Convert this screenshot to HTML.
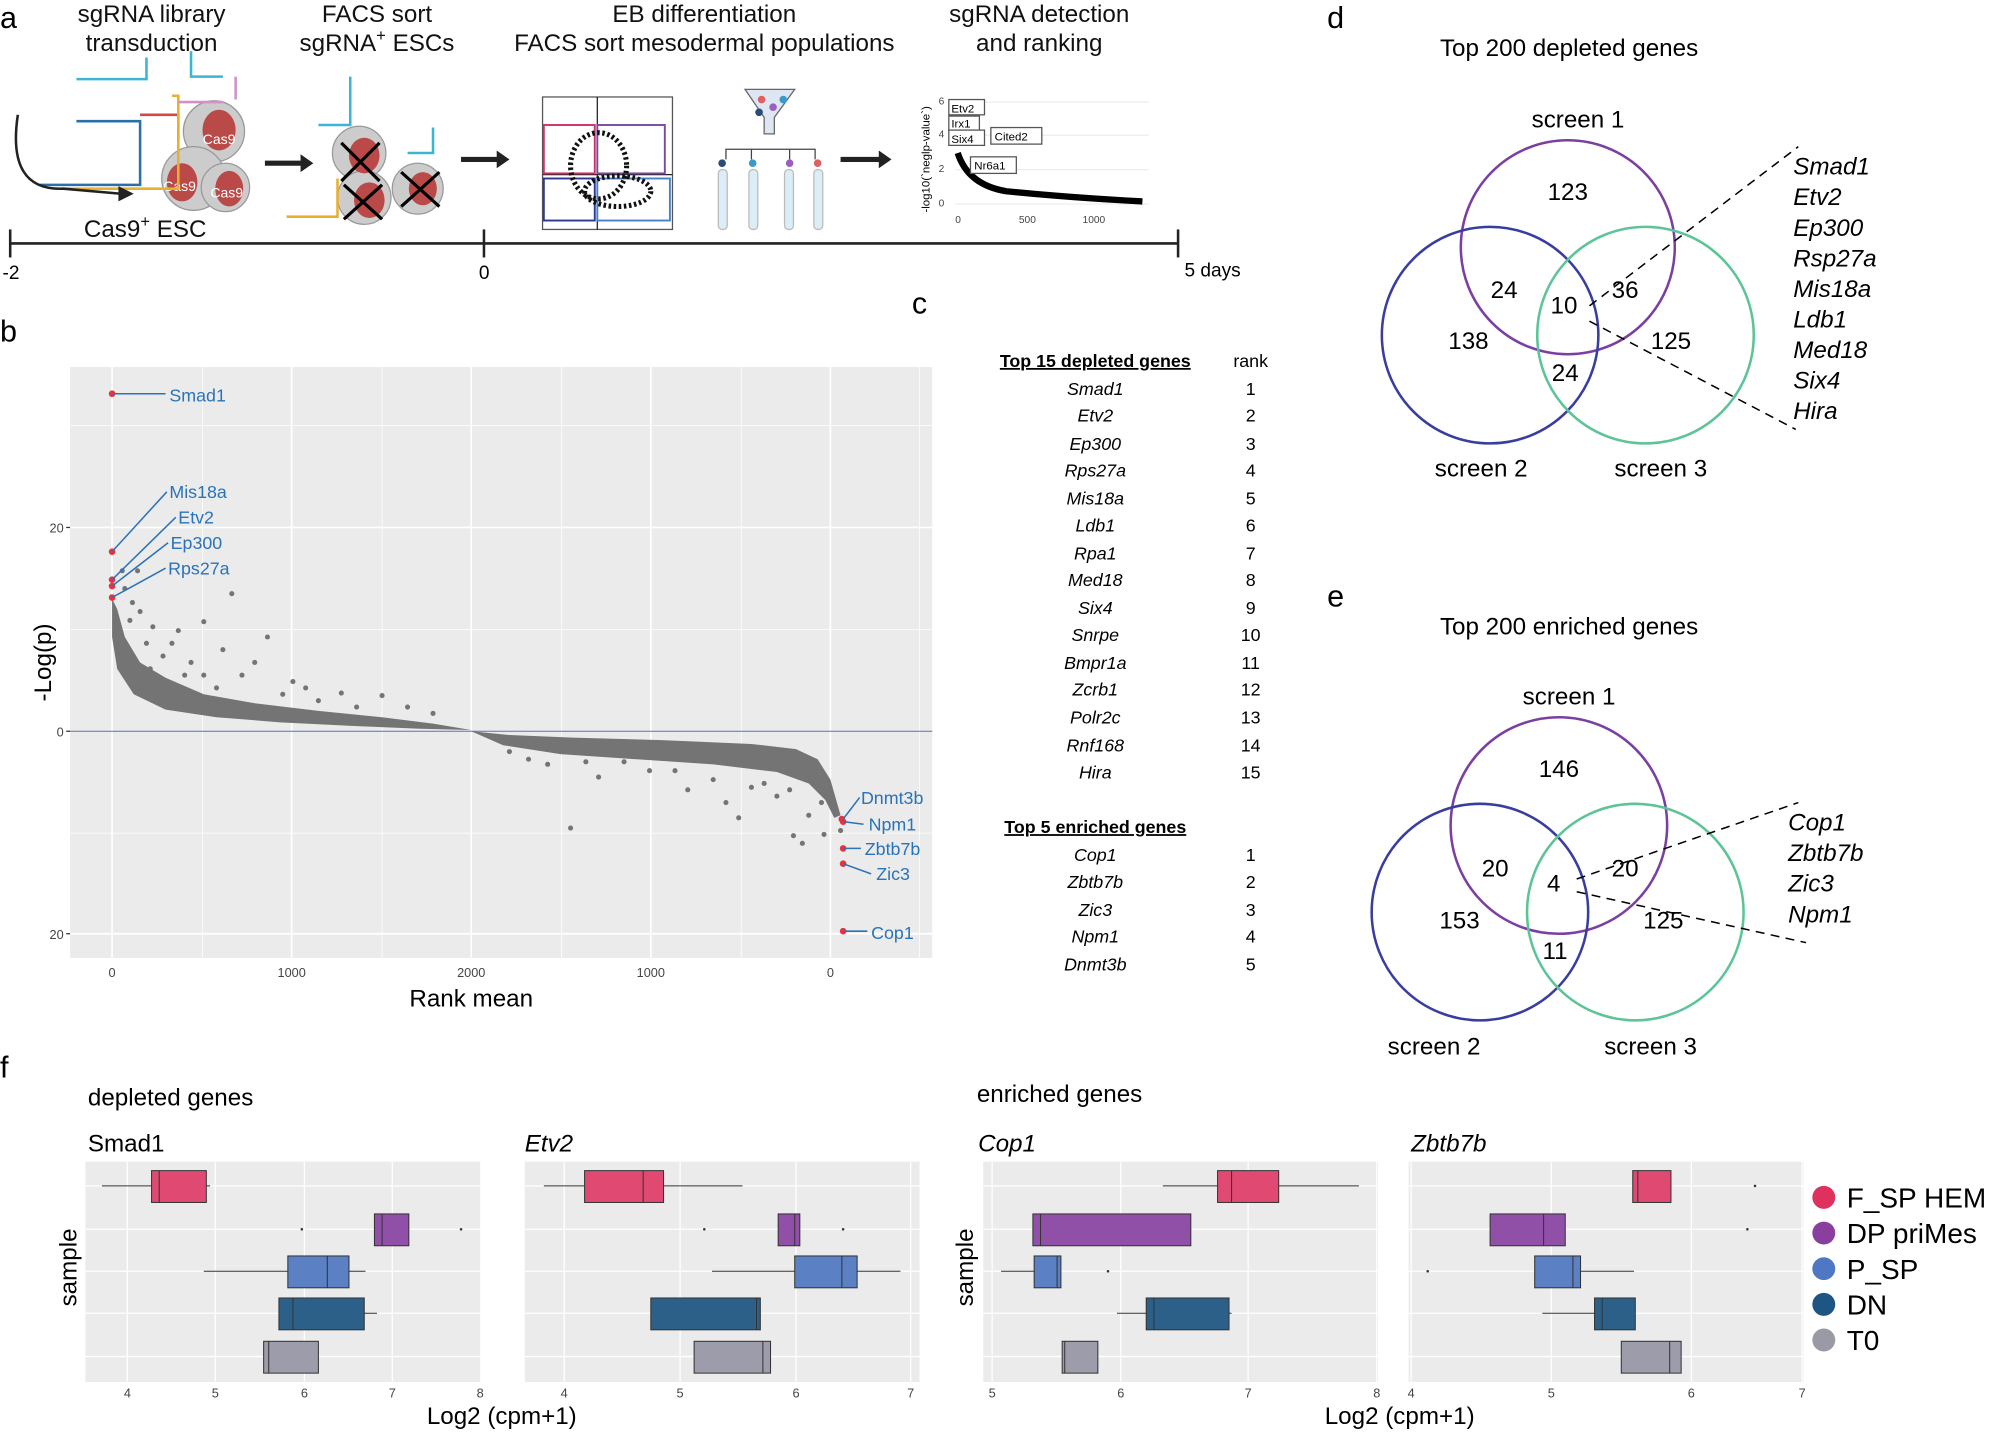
<!DOCTYPE html>
<html><head><meta charset="utf-8"><style>html,body{margin:0;padding:0;background:#fff}svg{display:block}text{font-family:"Liberation Sans",sans-serif}</style></head><body>
<svg width="1997" height="1437" viewBox="0 0 1568 1128" xmlns="http://www.w3.org/2000/svg">
<!-- Panel a -->
<text x="0" y="22" font-size="24">a</text>
<g font-size="19" text-anchor="middle" fill="#111">
<text x="119" y="17">sgRNA library</text><text x="119" y="40">transduction</text>
<text x="296" y="17">FACS sort</text><text x="296" y="40">sgRNA<tspan font-size="13" dy="-8">+</tspan><tspan dy="8"> ESCs</tspan></text>
<text x="553" y="17">EB differentiation</text><text x="553" y="40">FACS sort mesodermal populations</text>
<text x="816" y="17">sgRNA detection</text><text x="816" y="40">and ranking</text>
<text x="114" y="186">Cas9<tspan font-size="13" dy="-8">+</tspan><tspan dy="8"> ESC</tspan></text>
</g>
<g stroke="#999" stroke-width="1">
<circle cx="168" cy="103" r="24" fill="#ccc"/><circle cx="152" cy="140" r="25" fill="#ccc"/><circle cx="177" cy="147" r="19" fill="#ccc"/>
<circle cx="282" cy="120" r="21" fill="#ccc"/><circle cx="286" cy="155" r="21" fill="#ccc"/><circle cx="328" cy="148" r="20" fill="#ccc"/>
</g>
<g fill="#b94a48"><ellipse cx="172" cy="102" rx="13" ry="16"/><ellipse cx="143" cy="143" rx="12" ry="15"/><ellipse cx="180" cy="148" rx="11" ry="14"/><ellipse cx="286" cy="122" rx="12" ry="14"/><ellipse cx="290" cy="157" rx="12" ry="14"/><ellipse cx="332" cy="148" rx="11" ry="13"/></g>
<g font-size="11" fill="#fff" text-anchor="middle"><text x="172" y="113">Cas9</text><text x="141" y="150">Cas9</text><text x="178" y="155">Cas9</text></g>
<g fill="none" stroke-width="2">
<path d="M60 95 H110 V145 H30" stroke="#2a6fa8"/><path d="M110 90 H140 V110" stroke="#d04848"/><path d="M60 62 H115 V45 M150 40 V60 H175" stroke="#3bb5d0"/><path d="M45 148 H140 V75 H135" stroke="#e8b030"/><path d="M140 80 H175 M185 60 V78" stroke="#d090c8"/>
<path d="M250 98 H275 V60 M320 120 H340 V100" stroke="#3bb5d0"/><path d="M225 170 H265 V140" stroke="#e8b030"/>
</g>
<g stroke="#000" stroke-width="2.5"><path d="M268 112 L298 142 M298 112 L268 142 M270 145 L300 172 M300 145 L270 172 M315 135 L345 162 M345 135 L315 162"/></g>
<path d="M14 90 Q5 150 50 148 L95 152" fill="none" stroke="#222" stroke-width="2"/>
<path d="M93 146 L105 152 L93 158Z" fill="#222"/>
<g fill="#222"><path d="M208 126 H236 V121 L246 128 L236 135 V130 H208Z"/><path d="M362 123 H390 V118 L400 125 L390 132 V127 H362Z"/><path d="M660 123 H690 V118 L700 125 L690 132 V127 H660Z"/></g>
<rect x="426" y="76" width="102" height="104" fill="none" stroke="#555"/>
<line x1="469" y1="76" x2="469" y2="180" stroke="#222"/><line x1="426" y1="137" x2="528" y2="137" stroke="#222"/>
<rect x="427" y="98" width="40" height="38" fill="none" stroke="#d0306a" stroke-width="1.5"/><rect x="469" y="98" width="53" height="38" fill="none" stroke="#7a4aa0" stroke-width="1.5"/>
<rect x="427" y="140" width="40" height="33" fill="none" stroke="#2a3a90" stroke-width="1.5"/><rect x="469" y="140" width="57" height="33" fill="none" stroke="#4a80c8" stroke-width="1.5"/>
<ellipse cx="470" cy="130" rx="22" ry="26" fill="none" stroke="#111" stroke-width="4" stroke-dasharray="2 2"/><ellipse cx="485" cy="150" rx="26" ry="12" fill="none" stroke="#111" stroke-width="4" stroke-dasharray="2 2"/>
<path d="M585 70 H624 L608 92 V105 H600 V92Z" fill="#dde6f2" stroke="#666"/>
<path d="M570 125 V117 H640 V125 M590 117 V125 M620 117 V125" fill="none" stroke="#444"/>
<g fill="#dbeef7" stroke="#bbb"><rect x="564" y="133" width="7" height="47" rx="3"/><rect x="588" y="133" width="7" height="47" rx="3"/><rect x="616" y="133" width="7" height="47" rx="3"/><rect x="639" y="133" width="7" height="47" rx="3"/></g>
<g><circle cx="567" cy="128" r="3" fill="#2a4a7a"/><circle cx="591" cy="128" r="3" fill="#3a9ac8"/><circle cx="620" cy="128" r="3" fill="#9a60c0"/><circle cx="642" cy="128" r="3" fill="#e06060"/>
<circle cx="598" cy="78" r="3" fill="#e06060"/><circle cx="607" cy="84" r="3" fill="#9a60c0"/><circle cx="615" cy="78" r="3" fill="#3a9ac8"/><circle cx="596" cy="88" r="3" fill="#2a4a7a"/></g>
<text x="730" y="125" font-size="9" transform="rotate(-90 730 125)" text-anchor="middle">-log10(`neglp-value`)</text>
<g stroke="#eee"><line x1="750" y1="80" x2="902" y2="80"/><line x1="750" y1="106" x2="902" y2="106"/><line x1="750" y1="133" x2="902" y2="133"/><line x1="750" y1="160" x2="902" y2="160"/></g>
<g font-size="8" fill="#444"><text x="737" y="82">6</text><text x="737" y="108">4</text><text x="737" y="135">2</text><text x="737" y="162">0</text><text x="750" y="175">0</text><text x="800" y="175">500</text><text x="850" y="175">1000</text></g>
<path d="M752 120 Q760 145 790 150 Q840 155 897 158" fill="none" stroke="#000" stroke-width="5"/>
<g font-size="9" fill="#000"><rect x="745" y="78" width="28" height="12" fill="#fff" stroke="#555"/><text x="747" y="88">Etv2</text><rect x="745" y="91" width="24" height="11" fill="#fff" stroke="#555"/><text x="747" y="100">Irx1</text><rect x="745" y="102" width="28" height="12" fill="#fff" stroke="#555"/><text x="747" y="112">Six4</text><rect x="778" y="100" width="40" height="13" fill="#fff" stroke="#555"/><text x="781" y="110">Cited2</text><rect x="762" y="123" width="36" height="13" fill="#fff" stroke="#555"/><text x="765" y="133">Nr6a1</text></g>
<g stroke="#222" stroke-width="2"><line x1="8" y1="191" x2="925" y2="191"/><line x1="8" y1="180" x2="8" y2="202"/><line x1="380" y1="180" x2="380" y2="202"/><line x1="925" y1="180" x2="925" y2="202"/></g>
<g font-size="15"><text x="2" y="219">-2</text><text x="376" y="219">0</text><text x="930" y="217">5 days</text></g>

<!-- Panel b -->
<text x="0" y="268" font-size="24">b</text>
<rect x="55" y="288" width="677" height="464" fill="#ebebeb"/>
<g stroke="#fff" stroke-width="0.6"><line x1="159" y1="288" x2="159" y2="752"/><line x1="300" y1="288" x2="300" y2="752"/><line x1="441" y1="288" x2="441" y2="752"/><line x1="582" y1="288" x2="582" y2="752"/><line x1="722" y1="288" x2="722" y2="752"/><line x1="55" y1="334" x2="732" y2="334"/><line x1="55" y1="494" x2="732" y2="494"/><line x1="55" y1="654" x2="732" y2="654"/></g>
<g stroke="#fff" stroke-width="1.3"><line x1="88" y1="288" x2="88" y2="752"/><line x1="229" y1="288" x2="229" y2="752"/><line x1="370" y1="288" x2="370" y2="752"/><line x1="511" y1="288" x2="511" y2="752"/><line x1="652" y1="288" x2="652" y2="752"/><line x1="55" y1="414" x2="732" y2="414"/><line x1="55" y1="733" x2="732" y2="733"/></g>
<g fill="#747474">
<path d="M88 470 L92 478 L98 500 L110 520 L130 532 L160 545 L200 552 L250 558 L300 563 L340 568 L370 573 L330 572 L280 570 L220 567 L170 563 L130 557 L105 545 L92 525 L88 500Z"/>
<path d="M370 574 L400 577 L450 579 L520 581 L590 584 L625 588 L642 596 L652 612 L660 640 L655 642 L648 628 L635 615 L610 606 L560 600 L500 596 L440 592 L395 585Z"/>
</g>
<line x1="55" y1="574" x2="732" y2="574" stroke="#5577aa" stroke-width="0.8"/>
<g fill="#747474">
<circle cx="110" cy="480" r="2"/><circle cx="104" cy="473" r="2"/><circle cx="120" cy="492" r="2"/><circle cx="115" cy="505" r="2"/><circle cx="135" cy="505" r="2"/><circle cx="128" cy="515" r="2"/><circle cx="150" cy="520" r="2"/><circle cx="182" cy="466" r="2"/><circle cx="140" cy="495" r="2"/><circle cx="160" cy="530" r="2"/><circle cx="200" cy="520" r="2"/><circle cx="230" cy="535" r="2"/><circle cx="268" cy="544" r="2"/><circle cx="300" cy="546" r="2"/><circle cx="160" cy="488" r="2"/><circle cx="96" cy="448" r="2"/><circle cx="108" cy="448" r="2"/><circle cx="210" cy="500" r="2"/><circle cx="175" cy="510" r="2"/><circle cx="190" cy="530" r="2"/><circle cx="250" cy="550" r="2"/><circle cx="320" cy="555" r="2"/><circle cx="222" cy="545" r="2"/><circle cx="240" cy="540" r="2"/><circle cx="145" cy="530" r="2"/><circle cx="170" cy="540" r="2"/><circle cx="118" cy="525" r="2"/><circle cx="98" cy="462" r="2"/><circle cx="102" cy="487" r="2"/><circle cx="280" cy="555" r="2"/><circle cx="340" cy="560" r="2"/>
<circle cx="400" cy="590" r="2"/><circle cx="415" cy="596" r="2"/><circle cx="430" cy="600" r="2"/><circle cx="448" cy="650" r="2"/><circle cx="470" cy="610" r="2"/><circle cx="490" cy="598" r="2"/><circle cx="510" cy="605" r="2"/><circle cx="540" cy="620" r="2"/><circle cx="560" cy="612" r="2"/><circle cx="570" cy="630" r="2"/><circle cx="580" cy="642" r="2"/><circle cx="600" cy="615" r="2"/><circle cx="620" cy="620" r="2"/><circle cx="623" cy="656" r="2"/><circle cx="630" cy="662" r="2"/><circle cx="645" cy="630" r="2"/><circle cx="640" cy="610" r="2"/><circle cx="647" cy="655" r="2"/><circle cx="660" cy="652" r="2"/><circle cx="610" cy="625" r="2"/><circle cx="590" cy="618" r="2"/><circle cx="635" cy="640" r="2"/><circle cx="530" cy="605" r="2"/><circle cx="460" cy="598" r="2"/>
</g>
<g fill="#e8323c"><circle cx="88" cy="309" r="2.6"/><circle cx="88" cy="433" r="2.6"/><circle cx="88" cy="455" r="2.6"/><circle cx="88" cy="460" r="2.6"/><circle cx="88" cy="469" r="2.6"/><circle cx="661" cy="643" r="2.6"/><circle cx="662" cy="645" r="2.6"/><circle cx="662" cy="666" r="2.6"/><circle cx="662" cy="678" r="2.6"/><circle cx="662" cy="731" r="2.6"/></g>
<g stroke="#2a73b8" stroke-width="1.2" fill="none"><path d="M88 309 H130"/><path d="M88 433 L131 386"/><path d="M88 455 L138 406"/><path d="M88 460 L132 426"/><path d="M88 469 L130 446"/><path d="M662 643 L675 626"/><path d="M662 645 L678 647"/><path d="M662 666 L676 666"/><path d="M662 678 L684 686"/><path d="M662 731 L681 731"/></g>
<g font-size="14" fill="#2a73b8"><text x="133" y="315">Smad1</text><text x="133" y="391">Mis18a</text><text x="140" y="411">Etv2</text><text x="134" y="431">Ep300</text><text x="132" y="451">Rps27a</text><text x="676" y="631">Dnmt3b</text><text x="682" y="652">Npm1</text><text x="679" y="671">Zbtb7b</text><text x="688" y="691">Zic3</text><text x="684" y="737">Cop1</text></g>
<g stroke="#333"><line x1="52" y1="414" x2="55" y2="414"/><line x1="52" y1="574" x2="55" y2="574"/><line x1="52" y1="733" x2="55" y2="733"/></g>
<g font-size="10" fill="#444" text-anchor="end"><text x="50" y="418">20</text><text x="50" y="578">0</text><text x="50" y="737">20</text></g>
<g font-size="10" fill="#444" text-anchor="middle"><text x="88" y="767">0</text><text x="229" y="767">1000</text><text x="370" y="767">2000</text><text x="511" y="767">1000</text><text x="652" y="767">0</text></g>
<text x="370" y="790" font-size="19" text-anchor="middle">Rank mean</text>
<text x="40" y="520" font-size="19" text-anchor="middle" transform="rotate(-90 40 520)">-Log(p)</text>

<!-- Panel c -->
<text x="716" y="246" font-size="24">c</text>
<g font-size="14" text-anchor="middle">
<text x="860" y="288" font-weight="bold" text-decoration="underline">Top 15 depleted genes</text><text x="982" y="288">rank</text>
<g font-style="italic"><text x="860" y="310">Smad1</text><text x="860" y="331">Etv2</text><text x="860" y="353">Ep300</text><text x="860" y="374">Rps27a</text><text x="860" y="396">Mis18a</text><text x="860" y="417">Ldb1</text><text x="860" y="439">Rpa1</text><text x="860" y="460">Med18</text><text x="860" y="482">Six4</text><text x="860" y="503">Snrpe</text><text x="860" y="525">Bmpr1a</text><text x="860" y="546">Zcrb1</text><text x="860" y="568">Polr2c</text><text x="860" y="590">Rnf168</text><text x="860" y="611">Hira</text></g>
<text x="982" y="310">1</text><text x="982" y="331">2</text><text x="982" y="353">3</text><text x="982" y="374">4</text><text x="982" y="396">5</text><text x="982" y="417">6</text><text x="982" y="439">7</text><text x="982" y="460">8</text><text x="982" y="482">9</text><text x="982" y="503">10</text><text x="982" y="525">11</text><text x="982" y="546">12</text><text x="982" y="568">13</text><text x="982" y="590">14</text><text x="982" y="611">15</text>
<text x="860" y="654" font-weight="bold" text-decoration="underline">Top 5 enriched genes</text>
<g font-style="italic"><text x="860" y="676">Cop1</text><text x="860" y="697">Zbtb7b</text><text x="860" y="719">Zic3</text><text x="860" y="740">Npm1</text><text x="860" y="762">Dnmt3b</text></g>
<text x="982" y="676">1</text><text x="982" y="697">2</text><text x="982" y="719">3</text><text x="982" y="740">4</text><text x="982" y="762">5</text>
</g>

<!-- Panel d -->
<text x="1042" y="22" font-size="24">d</text>
<text x="1232" y="44" font-size="19" text-anchor="middle">Top 200 depleted genes</text>
<g fill="none" stroke-width="2"><circle cx="1231" cy="194" r="84" stroke="#7a3fa0"/><circle cx="1170" cy="263" r="85" stroke="#3a3da0"/><circle cx="1292" cy="263" r="85" stroke="#5cc496"/></g>
<g font-size="19" text-anchor="middle"><text x="1239" y="100">screen 1</text><text x="1163" y="374">screen 2</text><text x="1304" y="374">screen 3</text>
<text x="1231" y="157">123</text><text x="1181" y="234">24</text><text x="1276" y="234">36</text><text x="1228" y="246">10</text><text x="1153" y="274">138</text><text x="1312" y="274">125</text><text x="1229" y="299">24</text></g>
<g stroke="#000" stroke-dasharray="7 5" stroke-width="1.2"><line x1="1248" y1="240" x2="1412" y2="115"/><line x1="1248" y1="252" x2="1410" y2="337"/></g>
<g font-size="19" font-style="italic"><text x="1408" y="137">Smad1</text><text x="1408" y="161">Etv2</text><text x="1408" y="185">Ep300</text><text x="1408" y="209">Rsp27a</text><text x="1408" y="233">Mis18a</text><text x="1408" y="257">Ldb1</text><text x="1408" y="281">Med18</text><text x="1408" y="305">Six4</text><text x="1408" y="329">Hira</text></g>

<!-- Panel e -->
<text x="1042" y="476" font-size="24">e</text>
<text x="1232" y="498" font-size="19" text-anchor="middle">Top 200 enriched genes</text>
<g fill="none" stroke-width="2"><circle cx="1224" cy="648" r="85" stroke="#7a3fa0"/><circle cx="1162" cy="716" r="85" stroke="#3a3da0"/><circle cx="1284" cy="716" r="85" stroke="#5cc496"/></g>
<g font-size="19" text-anchor="middle"><text x="1232" y="553">screen 1</text><text x="1126" y="828">screen 2</text><text x="1296" y="828">screen 3</text>
<text x="1224" y="610">146</text><text x="1174" y="688">20</text><text x="1276" y="688">20</text><text x="1220" y="700">4</text><text x="1146" y="729">153</text><text x="1306" y="729">125</text><text x="1221" y="753">11</text></g>
<g stroke="#000" stroke-dasharray="7 5" stroke-width="1.2"><line x1="1238" y1="690" x2="1412" y2="630"/><line x1="1238" y1="700" x2="1418" y2="740"/></g>
<g font-size="19" font-style="italic"><text x="1404" y="652">Cop1</text><text x="1404" y="676">Zbtb7b</text><text x="1404" y="700">Zic3</text><text x="1404" y="724">Npm1</text></g>

<!-- Panel f -->
<text x="0" y="846" font-size="24">f</text>
<text x="69" y="868" font-size="19">depleted genes</text><text x="767" y="865" font-size="19">enriched genes</text>
<g font-size="19"><text x="69" y="904">Smad1</text><text x="412" y="904" font-style="italic">Etv2</text><text x="768" y="904" font-style="italic">Cop1</text><text x="1108" y="904" font-style="italic">Zbtb7b</text></g>
<g fill="#ebebeb"><rect x="67" y="912" width="310" height="173"/><rect x="412" y="912" width="310" height="173"/><rect x="772" y="912" width="310" height="173"/><rect x="1106" y="912" width="310" height="173"/></g>
<g stroke="#fff" stroke-width="1"><path d="M67 931H377M67 965H377M67 998H377M67 1031H377M67 1065H377M100 912V1085M169 912V1085M239 912V1085M308 912V1085"/>
<path d="M412 931H722M412 965H722M412 998H722M412 1031H722M412 1065H722M443 912V1085M534 912V1085M625 912V1085M715 912V1085"/>
<path d="M772 931H1082M772 965H1082M772 998H1082M772 1031H1082M772 1065H1082M779 912V1085M880 912V1085M980 912V1085M1081 912V1085"/>
<path d="M1106 931H1416M1106 965H1416M1106 998H1416M1106 1031H1416M1106 1065H1416M1108 912V1085M1218 912V1085M1328 912V1085M1415 912V1085"/></g>
<g stroke="#333" stroke-width="0.8">
<line x1="80" y1="931" x2="165" y2="931"/><rect x="119" y="919" width="43" height="25" fill="#e04a72"/><line x1="125" y1="919" x2="125" y2="944"/>
<rect x="294" y="953" width="27" height="25" fill="#9150a8"/><line x1="300" y1="953" x2="300" y2="978"/>
<line x1="160" y1="998" x2="287" y2="998"/><rect x="226" y="986" width="48" height="25" fill="#5b80c4"/><line x1="257" y1="986" x2="257" y2="1011"/>
<line x1="219" y1="1031" x2="296" y2="1031"/><rect x="219" y="1019" width="67" height="25" fill="#2d6088"/><line x1="230" y1="1019" x2="230" y2="1044"/>
<rect x="207" y="1053" width="43" height="25" fill="#9c9cab"/><line x1="211" y1="1053" x2="211" y2="1078"/>
<line x1="427" y1="931" x2="583" y2="931"/><rect x="459" y="919" width="62" height="25" fill="#e04a72"/><line x1="505" y1="919" x2="505" y2="944"/>
<rect x="611" y="953" width="17" height="25" fill="#9150a8"/><line x1="624" y1="953" x2="624" y2="978"/>
<line x1="559" y1="998" x2="707" y2="998"/><rect x="624" y="986" width="49" height="25" fill="#5b80c4"/><line x1="661" y1="986" x2="661" y2="1011"/>
<rect x="511" y="1019" width="86" height="25" fill="#2d6088"/><line x1="594" y1="1019" x2="594" y2="1044"/>
<rect x="545" y="1053" width="60" height="25" fill="#9c9cab"/><line x1="599" y1="1053" x2="599" y2="1078"/>
<line x1="913" y1="931" x2="1067" y2="931"/><rect x="956" y="919" width="48" height="25" fill="#e04a72"/><line x1="967" y1="919" x2="967" y2="944"/>
<rect x="811" y="953" width="124" height="25" fill="#9150a8"/><line x1="817" y1="953" x2="817" y2="978"/>
<line x1="786" y1="998" x2="833" y2="998"/><rect x="812" y="986" width="21" height="25" fill="#5b80c4"/><line x1="830" y1="986" x2="830" y2="1011"/>
<line x1="877" y1="1031" x2="967" y2="1031"/><rect x="900" y="1019" width="65" height="25" fill="#2d6088"/><line x1="906" y1="1019" x2="906" y2="1044"/>
<rect x="834" y="1053" width="28" height="25" fill="#9c9cab"/><line x1="836" y1="1053" x2="836" y2="1078"/>
<rect x="1282" y="919" width="30" height="25" fill="#e04a72"/><line x1="1286" y1="919" x2="1286" y2="944"/>
<rect x="1170" y="953" width="59" height="25" fill="#9150a8"/><line x1="1212" y1="953" x2="1212" y2="978"/>
<line x1="1205" y1="998" x2="1283" y2="998"/><rect x="1205" y="986" width="36" height="25" fill="#5b80c4"/><line x1="1235" y1="986" x2="1235" y2="1011"/>
<line x1="1211" y1="1031" x2="1284" y2="1031"/><rect x="1252" y="1019" width="32" height="25" fill="#2d6088"/><line x1="1258" y1="1019" x2="1258" y2="1044"/>
<rect x="1273" y="1053" width="47" height="25" fill="#9c9cab"/><line x1="1311" y1="1053" x2="1311" y2="1078"/>
</g>
<g fill="#333"><circle cx="237" cy="965" r="1"/><circle cx="362" cy="965" r="1"/><circle cx="553" cy="965" r="1"/><circle cx="662" cy="965" r="1"/><circle cx="870" cy="998" r="1"/><circle cx="1378" cy="931" r="1"/><circle cx="1372" cy="965" r="1"/><circle cx="1121" cy="998" r="1"/></g>
<g font-size="10" fill="#444" text-anchor="middle"><text x="100" y="1097">4</text><text x="169" y="1097">5</text><text x="239" y="1097">6</text><text x="308" y="1097">7</text><text x="377" y="1097">8</text>
<text x="443" y="1097">4</text><text x="534" y="1097">5</text><text x="625" y="1097">6</text><text x="715" y="1097">7</text>
<text x="779" y="1097">5</text><text x="880" y="1097">6</text><text x="980" y="1097">7</text><text x="1081" y="1097">8</text>
<text x="1108" y="1097">4</text><text x="1218" y="1097">5</text><text x="1328" y="1097">6</text><text x="1415" y="1097">7</text></g>
<g font-size="19" text-anchor="middle"><text x="394" y="1118">Log2 (cpm+1)</text><text x="1099" y="1118">Log2 (cpm+1)</text>
<text x="60" y="995" transform="rotate(-90 60 995)">sample</text><text x="764" y="995" transform="rotate(-90 764 995)">sample</text></g>
<g><circle cx="1432" cy="940" r="9" fill="#e0305e"/><circle cx="1432" cy="968" r="9" fill="#8a3f9e"/><circle cx="1432" cy="996" r="9" fill="#5077c4"/><circle cx="1432" cy="1024" r="9" fill="#1e5582"/><circle cx="1432" cy="1052" r="9" fill="#9a9aa6"/></g>
<g font-size="22"><text x="1450" y="948">F_SP HEM</text><text x="1450" y="976">DP priMes</text><text x="1450" y="1004">P_SP</text><text x="1450" y="1032">DN</text><text x="1450" y="1060">T0</text></g>
</svg>
</body></html>
